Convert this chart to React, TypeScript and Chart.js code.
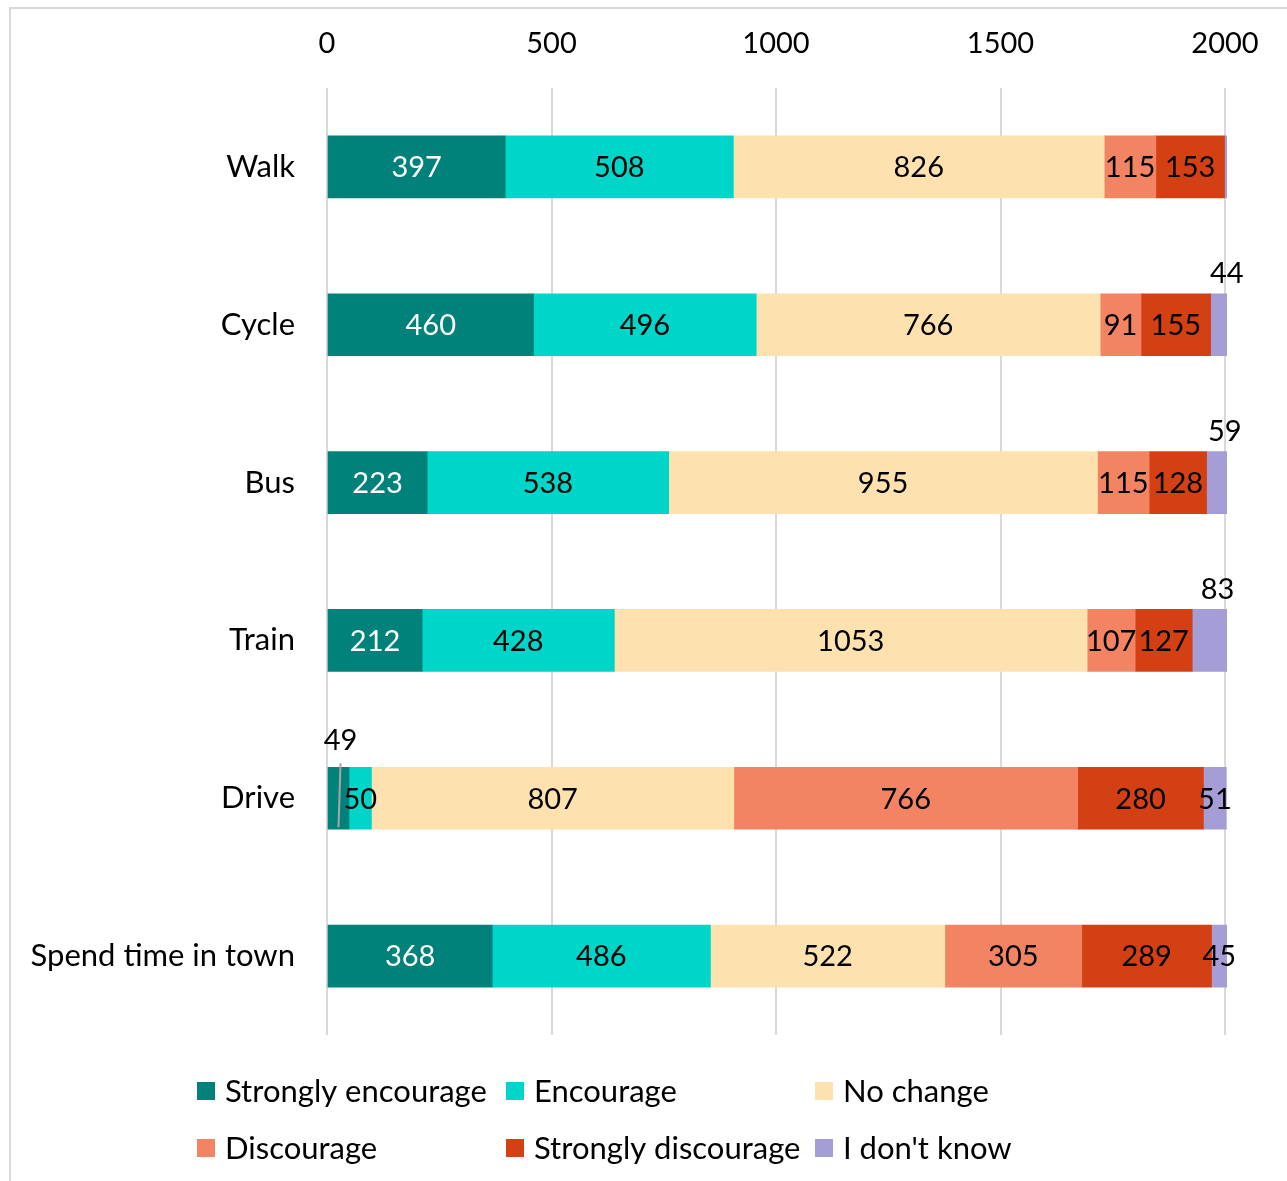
import React, { useEffect, useRef } from "react";
import { Chart, registerables } from "chart.js";

Chart.register(...registerables);

const FONT = "Lato, 'Noto Sans', sans-serif";
const NUM_SIZE = 29;
const WORD_SIZE = 31;

const categories = ["Walk", "Cycle", "Bus", "Train", "Drive", "Spend time in town"];
const seriesNames = [
  "Strongly encourage",
  "Encourage",
  "No change",
  "Discourage",
  "Strongly discourage",
  "I don't know",
];
const stronglyEncourage = [397, 460, 223, 212, 49, 368];
const encourage = [508, 496, 538, 428, 50, 486];
const noChange = [826, 766, 955, 1053, 807, 522];
const discourage = [115, 91, 115, 107, 766, 305];
const stronglyDiscourage = [153, 155, 128, 127, 280, 289];
const dontKnow = [8, 44, 59, 83, 51, 45];
const xTicks = [0, 500, 1000, 1500, 2000];

const seriesColors = ["#00827a", "#00d5c9", "#fde1ae", "#f28464", "#d34014", "#a59ed6"];
const labelColors = ["#ffffff", "#000000", "#000000", "#000000", "#000000", "#000000"];
// labels that are not shown, and labels lifted above the bar ("category|series")
const hiddenLabels = ["Walk|I don't know"];
const raisedLabels = [
  "Cycle|I don't know",
  "Bus|I don't know",
  "Train|I don't know",
  "Drive|Strongly encourage",
];
const leaderLabels = ["Drive|Strongly encourage"];

const allSeries = [stronglyEncourage, encourage, noChange, discourage, stronglyDiscourage, dontKnow];

const segLabelPlugin = {
  id: "segLabels",
  beforeDraw(chart: any) {
    const ctx = chart.ctx;
    ctx.save();
    ctx.strokeStyle = "#d9d9d9";
    ctx.lineWidth = 2;
    ctx.strokeRect(10, 8, 1500, 1500);
    ctx.restore();
  },
  afterDatasetsDraw(chart: any) {
    const ctx = chart.ctx;
    const area = chart.chartArea;
    ctx.save();
    ctx.font = `${NUM_SIZE}px ${FONT}`;
    ctx.textAlign = "center";
    ctx.textBaseline = "middle";
    chart.data.datasets.forEach((ds: any, di: number) => {
      const meta = chart.getDatasetMeta(di);
      meta.data.forEach((bar: any, i: number) => {
        const key = `${categories[i]}|${seriesNames[di]}`;
        if (hiddenLabels.includes(key)) return;
        const p = bar.getProps(["x", "y", "base", "height"], true);
        const left = Math.max(Math.min(p.x, p.base), area.left);
        const right = Math.min(Math.max(p.x, p.base), area.right + 2);
        let cx = (left + right) / 2;
        const top = p.y - p.height / 2;
        const bottom = p.y + p.height / 2;
        let ly = p.y + 1;
        let color = labelColors[di];
        if (raisedLabels.includes(key)) {
          ly = top - 20;
          color = "#000000";
        }
        if (leaderLabels.includes(key)) {
          ctx.strokeStyle = "#a6a6a6";
          ctx.lineWidth = 2;
          ctx.beginPath();
          ctx.moveTo(cx + 2, top - 4);
          ctx.lineTo(cx, bottom - 2);
          ctx.stroke();
          ly = top - 27;
          cx += 2;
        } else if (raisedLabels.includes(key)) {
          cx += 8;
        }
        ctx.fillStyle = color;
        ctx.fillText(String(ds.data[i]), cx, ly);
      });
    });
    ctx.restore();
  },
  afterDraw(chart: any) {
    const ctx = chart.ctx;
    ctx.save();
    ctx.font = `${WORD_SIZE}px ${FONT}`;
    ctx.textAlign = "left";
    ctx.textBaseline = "middle";
    const colX = [197, 506, 815];
    const rowY = [1091, 1148];
    chart.data.datasets.forEach((ds: any, di: number) => {
      const x = colX[di % 3];
      const y = rowY[Math.floor(di / 3)];
      ctx.fillStyle = ds.backgroundColor;
      ctx.fillRect(x, y - 9, 18, 18);
      ctx.fillStyle = "#000000";
      ctx.fillText(ds.label, x + 28, y + 1);
    });
    ctx.restore();
  },
};

export default function App() {
  const canvasRef = useRef<HTMLCanvasElement | null>(null);

  useEffect(() => {
    const canvas = canvasRef.current;
    if (!canvas) return;
    const chart = new Chart(canvas, {
      type: "bar",
      data: {
        labels: categories,
        datasets: allSeries.map((values, i) => ({
          label: seriesNames[i],
          data: values,
          backgroundColor: seriesColors[i],
          borderWidth: 0,
          barThickness: 62,
          clip: { left: 2, right: 2, top: false, bottom: false } as any,
        })),
      },
      options: {
        indexAxis: "y",
        responsive: false,
        animation: false,
        layout: { padding: { left: 0, top: 0, right: 62, bottom: 146 } },
        plugins: {
          legend: { display: false },
          tooltip: { enabled: false },
          title: { display: false },
        },
        scales: {
          x: {
            position: "top",
            stacked: true,
            min: 0,
            max: 2000,
            afterFit: (scale: any) => {
              scale.height = 88;
            },
            afterBuildTicks: (scale: any) => {
              scale.ticks = xTicks.map((v) => ({ value: v }));
            },
            ticks: {
              stepSize: 500,
              padding: 27,
              color: "#000000",
              font: { family: FONT, size: NUM_SIZE },
              callback: (v: any) => String(v),
            },
            grid: { color: "#d9d9d9", lineWidth: 2, drawTicks: false },
            border: { display: false },
          },
          y: {
            stacked: true,
            afterFit: (scale: any) => {
              scale.width = 327;
            },
            ticks: {
              padding: 32,
              color: "#000000",
              font: { family: FONT, size: WORD_SIZE },
            },
            grid: { display: false, drawTicks: false },
            border: { display: false },
          },
        },
      },
      plugins: [segLabelPlugin],
    });
    return () => chart.destroy();
  }, []);

  return (
    <div style={{ position: "absolute", left: 0, top: 0, width: 1287, height: 1181, background: "#fff" }}>
      <canvas ref={canvasRef} width={1287} height={1181} style={{ display: "block" }} />
    </div>
  );
}
